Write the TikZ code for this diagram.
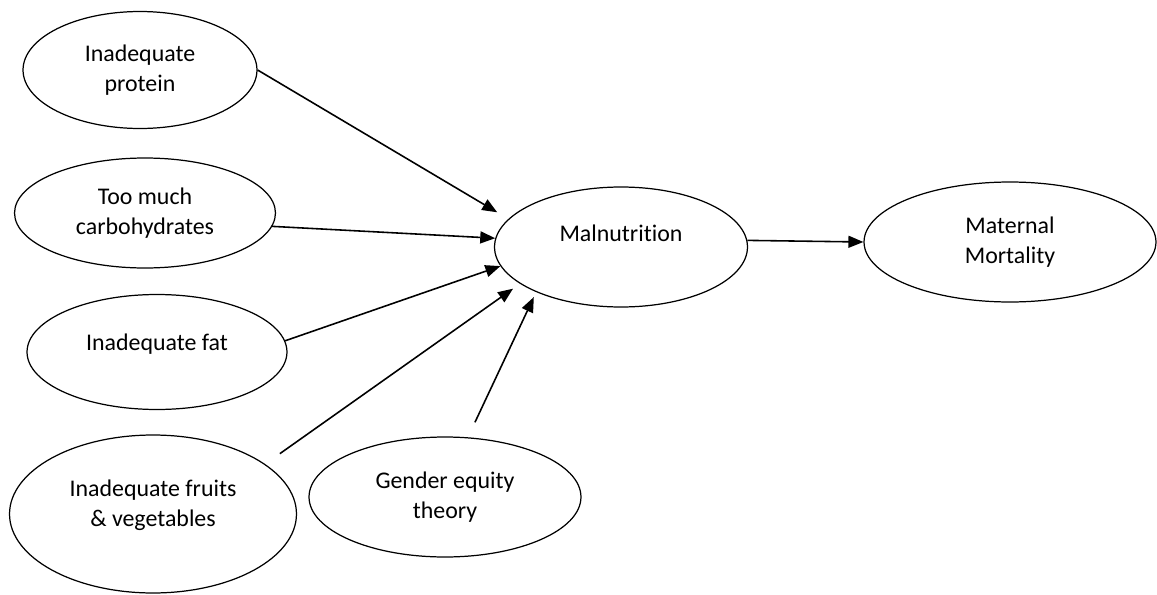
\documentclass[tikz,border=0pt]{standalone}
\usepackage{fontspec}
\setmainfont{Carlito}[Ligatures=NoCommon]
\usetikzlibrary{arrows.meta, shapes.geometric}
\tikzset{
  factor/.style={
    draw,
    ellipse,
    line width=0.7pt,
    inner sep=0pt,
    font=\fontsize{13.6}{17}\selectfont
  },
  cause/.style={
    draw,
    line width=0.9pt,
    -{Triangle[length=0.3cm, width=0.24cm]}
  }
}
\begin{document}
\begin{tikzpicture}[x=0.02cm, y=-0.02cm]
        \useasboundingbox (0,0) rectangle (1157,595);
        \node[factor, align=center, minimum width=4.68cm, minimum height=2.34cm] (protein) at (140,70) {Inadequate\\protein};
        \node[factor, align=center, minimum width=5.22cm, minimum height=2.2cm] (carbs) at (145,213) {Too much\\carbohydrates};
        \node[factor, text depth=11pt, minimum width=5.2cm, minimum height=2.3cm] (fat) at (157,352) {Inadequate fat};
        \node[factor, align=center, text height=20pt, text depth=6pt, minimum width=5.74cm, minimum height=3.16cm] (fruits) at (153,514) {Inadequate fruits\\\& vegetables};
        \node[factor, align=center, minimum width=5.44cm, minimum height=2.4cm] (gender) at (445,497) {Gender equity\\theory};

        \node[factor, text depth=15.6pt, minimum width=5.06cm, minimum height=2.4cm] (malnut) at (621,247) {Malnutrition};
        \node[factor, align=center, minimum width=5.84cm, minimum height=2.4cm] (mortality) at (1010,242) {Maternal\\Mortality};

        \draw[cause, shorten >=0.26cm] (protein.east) -- (malnut.166);
        \draw[cause] (carbs.-6) -- (malnut.176);
        \draw[cause] (fat.5) -- (malnut.189);
        \draw[cause, shorten <=0.36cm, shorten >=0.17cm] (fruits.24) -- (malnut.200);
        \draw[cause, shorten <=0.33cm, shorten >=0.11cm] (gender.69) -- (malnut.208);
        \draw[cause] (malnut.3) -- (mortality.west);
      \end{tikzpicture}
\end{document}
